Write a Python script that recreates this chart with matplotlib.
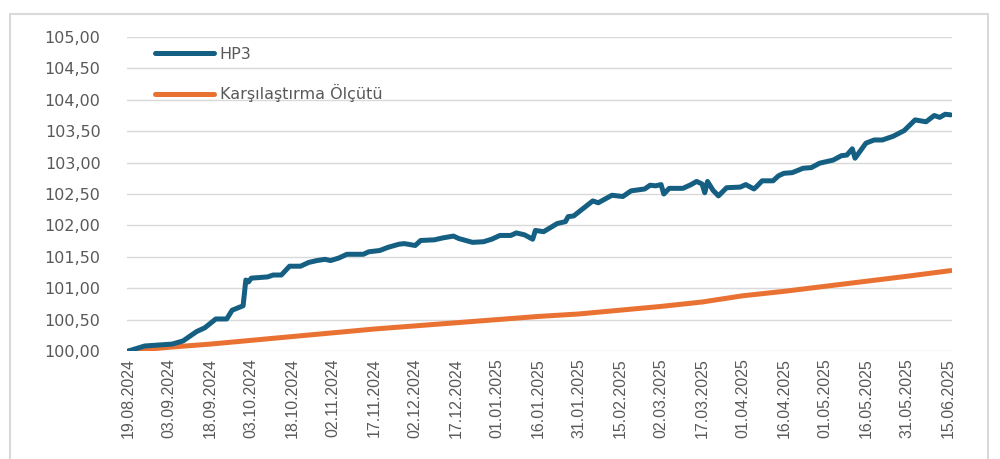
import pandas as pd
import matplotlib
matplotlib.use("Agg")
import matplotlib.pyplot as plt
import matplotlib.dates as mdates
from matplotlib.patches import Rectangle
from matplotlib.ticker import FuncFormatter

# HP3 fund price index (start = 100)
hp3_dates = [
    "19.08.2024", "25.08.2024", "04.09.2024", "08.09.2024", "13.09.2024", "16.09.2024",
    "20.09.2024", "24.09.2024", "26.09.2024", "30.09.2024", "01.10.2024", "02.10.2024",
    "03.10.2024", "09.10.2024", "11.10.2024", "14.10.2024", "17.10.2024", "21.10.2024",
    "24.10.2024", "27.10.2024", "30.10.2024", "01.11.2024", "04.11.2024", "07.11.2024",
    "13.11.2024", "15.11.2024", "19.11.2024", "22.11.2024", "26.11.2024", "28.11.2024",
    "02.12.2024", "04.12.2024", "09.12.2024", "12.12.2024", "16.12.2024", "18.12.2024",
    "23.12.2024", "27.12.2024", "30.12.2024", "02.01.2025", "06.01.2025", "08.01.2025",
    "11.01.2025", "14.01.2025", "15.01.2025", "18.01.2025", "23.01.2025", "26.01.2025",
    "27.01.2025", "29.01.2025", "05.02.2025", "07.02.2025", "12.02.2025", "16.02.2025",
    "19.02.2025", "24.02.2025", "26.02.2025", "28.02.2025", "02.03.2025", "03.03.2025",
    "05.03.2025", "10.03.2025", "13.03.2025", "15.03.2025", "17.03.2025", "18.03.2025",
    "19.03.2025", "21.03.2025", "23.03.2025", "26.03.2025", "31.03.2025", "02.04.2025",
    "05.04.2025", "06.04.2025", "08.04.2025", "12.04.2025", "14.04.2025", "16.04.2025",
    "19.04.2025", "23.04.2025", "26.04.2025", "29.04.2025", "04.05.2025", "07.05.2025",
    "09.05.2025", "11.05.2025", "12.05.2025", "16.05.2025", "19.05.2025", "22.05.2025",
    "26.05.2025", "30.05.2025", "03.06.2025", "07.06.2025", "10.06.2025", "12.06.2025",
    "14.06.2025", "16.06.2025",
]
hp3_values = [
    100.00, 100.08, 100.11, 100.16, 100.31, 100.37,
    100.51, 100.51, 100.65, 100.72, 101.13, 101.10,
    101.16, 101.18, 101.21, 101.21, 101.35, 101.35,
    101.41, 101.44, 101.46, 101.44, 101.48, 101.54,
    101.54, 101.58, 101.60, 101.65, 101.70, 101.71,
    101.68, 101.76, 101.77, 101.80, 101.83, 101.79,
    101.73, 101.74, 101.78, 101.84, 101.84, 101.88,
    101.85, 101.78, 101.92, 101.90, 102.03, 102.06,
    102.14, 102.15, 102.39, 102.36, 102.48, 102.46,
    102.55, 102.58, 102.64, 102.63, 102.65, 102.50,
    102.59, 102.59, 102.65, 102.70, 102.66, 102.52,
    102.70, 102.56, 102.47, 102.60, 102.61, 102.65,
    102.58, 102.62, 102.71, 102.71, 102.79, 102.83,
    102.84, 102.91, 102.92, 102.99, 103.04, 103.11,
    103.12, 103.22, 103.07, 103.31, 103.36, 103.36,
    103.42, 103.51, 103.68, 103.65, 103.75, 103.72,
    103.77, 103.76,
]

# benchmark index (start = 100)
bench_dates = [
    "19.08.2024", "03.09.2024", "18.09.2024", "03.10.2024", "18.10.2024", "02.11.2024",
    "17.11.2024", "02.12.2024", "17.12.2024", "01.01.2025", "16.01.2025", "31.01.2025",
    "15.02.2025", "02.03.2025", "17.03.2025", "01.04.2025", "16.04.2025", "01.05.2025",
    "16.05.2025", "31.05.2025", "16.06.2025",
]
bench_values = [
    100.00, 100.06, 100.11, 100.17, 100.23, 100.29,
    100.35, 100.40, 100.45, 100.50, 100.55, 100.59,
    100.65, 100.71, 100.78, 100.88, 100.95, 101.03,
    101.11, 101.19, 101.28,
]

tick_start = "19.08.2024"
tick_end = "15.06.2025"

HP3_COLOR = "#156082"
BENCH_COLOR = "#E97132"
TEXT_COLOR = "#595959"
GRID_COLOR = "#D9D9D9"


def main():
    hp3 = pd.Series(hp3_values, index=pd.to_datetime(hp3_dates, format="%d.%m.%Y"))
    bench = pd.Series(bench_values, index=pd.to_datetime(bench_dates, format="%d.%m.%Y"))
    ticks = pd.date_range(pd.to_datetime(tick_start, format="%d.%m.%Y"),
                          pd.to_datetime(tick_end, format="%d.%m.%Y"), freq="15D")

    fig = plt.figure(figsize=(10, 4.59), dpi=100)
    # light frame around the whole chart area
    fig.patches.append(Rectangle((0.0095, -0.01), 0.978, 1 - 14 / 459 + 0.01,
                                 transform=fig.transFigure, fill=False,
                                 edgecolor=GRID_COLOR, linewidth=1.5))

    ax = fig.add_axes([0.127, 1 - 351 / 459, 0.825, (351 - 37) / 459])
    ax.plot(hp3.index, hp3.values, color=HP3_COLOR, linewidth=3.6,
            solid_capstyle="round", solid_joinstyle="round", label="HP3", zorder=3)
    ax.plot(bench.index, bench.values, color=BENCH_COLOR, linewidth=3.6,
            solid_capstyle="round", solid_joinstyle="round",
            label="Karşılaştırma Ölçütü", zorder=2)

    ax.set_ylim(100, 105)
    ax.set_yticks([100 + 0.5 * i for i in range(11)])
    ax.yaxis.set_major_formatter(FuncFormatter(lambda v, p: f"{v:.2f}".replace(".", ",")))
    ax.set_xlim(ticks[0] - pd.Timedelta(days=0.5), ticks[-1] + pd.Timedelta(days=1.5))
    ax.set_xticks(ticks)
    ax.xaxis.set_major_formatter(mdates.DateFormatter("%d.%m.%Y"))

    ax.grid(axis="y", color=GRID_COLOR, linewidth=1.0)
    ax.set_axisbelow(True)
    for s in ax.spines.values():
        s.set_visible(False)
    ax.tick_params(axis="both", length=0, colors=TEXT_COLOR)
    ax.tick_params(axis="y", pad=19, labelsize=11.5)
    ax.tick_params(axis="x", pad=5)
    for lbl in ax.get_xticklabels():
        lbl.set_rotation(90)
        lbl.set_fontfamily(["Liberation Sans", "DejaVu Sans"])
        lbl.set_fontsize(11.5)

    leg = ax.legend(loc="upper left", bbox_to_anchor=(0.155, 1 - 47 / 459),
                    bbox_transform=fig.transFigure, frameon=False, fontsize=11.5,
                    handlelength=3.7, handletextpad=0.35, labelspacing=1.4,
                    borderpad=0, borderaxespad=0)
    for t in leg.get_texts():
        t.set_color(TEXT_COLOR)

    fig.savefig("out.png", dpi=100)


if __name__ == "__main__":
    main()
